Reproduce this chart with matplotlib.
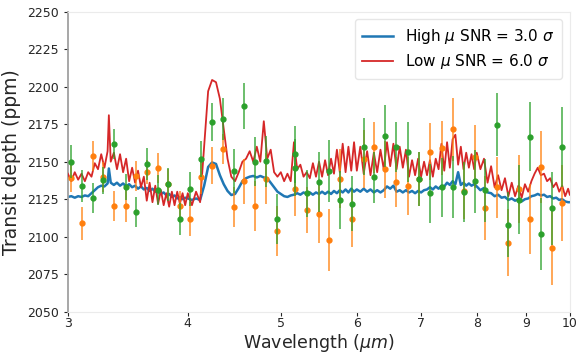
import matplotlib
matplotlib.use("Agg")
import matplotlib.pyplot as plt
from matplotlib.ticker import FixedLocator, NullLocator, FixedFormatter

# model spectra (wavelength in micron, transit depth in ppm)
wl_line = [3.000, 3.025, 3.050, 3.075, 3.100, 3.125, 3.150, 3.175, 3.200, 3.225,
           3.250, 3.275, 3.300, 3.310, 3.325, 3.350, 3.375, 3.400, 3.425, 3.450,
           3.475, 3.500, 3.525, 3.550, 3.575, 3.600, 3.625, 3.650, 3.675, 3.700,
           3.725, 3.750, 3.775, 3.800, 3.825, 3.850, 3.875, 3.900, 3.925, 3.950,
           3.975,
           4.00, 4.04, 4.08, 4.12, 4.16, 4.20, 4.24, 4.28, 4.32, 4.36,
           4.40, 4.44, 4.48, 4.52, 4.56, 4.60, 4.64, 4.68, 4.72, 4.76,
           4.80, 4.84, 4.88, 4.92, 4.96, 5.00, 5.04, 5.08, 5.12, 5.16,
           5.20, 5.24, 5.28, 5.32, 5.36, 5.40, 5.44, 5.48, 5.52, 5.56,
           5.60, 5.64, 5.68, 5.72, 5.76, 5.80, 5.84, 5.88, 5.92, 5.96,
           6.00, 6.05, 6.10, 6.15, 6.20, 6.25, 6.30, 6.35, 6.40, 6.45,
           6.50, 6.55, 6.60, 6.65, 6.70, 6.75, 6.80, 6.85, 6.90, 6.95,
           7.00, 7.05, 7.10, 7.15, 7.20, 7.25, 7.30, 7.35, 7.40, 7.45,
           7.50, 7.55, 7.60, 7.65, 7.70, 7.75, 7.80, 7.85, 7.90, 7.95,
           8.00, 8.07, 8.14, 8.21, 8.28, 8.35, 8.42, 8.49, 8.56, 8.63,
           8.70, 8.77, 8.84, 8.91, 8.98, 9.05, 9.12, 9.19, 9.26, 9.33,
           9.40, 9.47, 9.54, 9.61, 9.68, 9.75, 9.82, 9.89, 9.96, 10.00]

high_mu = [2126.5, 2127.0, 2126.0, 2127.0, 2126.5, 2127.5, 2127.0, 2129.0, 2131.0, 2133.0,
           2134.0, 2133.5, 2135.5, 2145.5, 2136.0, 2134.5, 2136.0, 2134.0, 2135.5, 2133.5,
           2135.0, 2133.0, 2134.0, 2132.0, 2133.5, 2131.5, 2132.5, 2130.5, 2132.0, 2130.0,
           2130.5, 2128.5, 2129.5, 2127.5, 2128.5, 2126.5, 2127.5, 2125.5, 2126.5, 2125.0,
           2126.0,
           2125.5, 2124.5, 2125.5, 2124.5, 2134.0, 2146.5, 2149.5, 2148.5, 2141.0, 2135.0,
           2130.5, 2127.8, 2128.5, 2132.5, 2137.0, 2139.0, 2140.0, 2140.5, 2139.5, 2140.5,
           2139.5, 2139.0, 2136.0, 2133.0, 2130.0, 2128.5, 2127.0, 2126.5, 2127.5, 2128.0,
           2129.0, 2128.0, 2129.5, 2128.5, 2129.5, 2128.0, 2129.5, 2128.5, 2130.0, 2128.5,
           2130.0, 2128.5, 2130.5, 2129.0, 2131.0, 2129.5, 2131.5, 2129.5, 2132.0, 2130.0,
           2131.5, 2130.0, 2132.0, 2130.0, 2131.5, 2129.5, 2131.0, 2129.5, 2131.0, 2133.5,
           2132.0, 2134.0, 2130.0, 2131.0, 2129.5, 2131.0, 2129.5, 2130.5, 2129.0, 2130.5,
           2129.5, 2131.0, 2131.5, 2133.0, 2131.5, 2133.5, 2132.0, 2134.0, 2133.5, 2136.0,
           2134.5, 2137.0, 2135.0, 2143.0, 2134.5, 2136.0, 2134.0, 2135.5, 2134.0, 2135.0,
           2133.5, 2131.0, 2132.5, 2129.5, 2129.0, 2127.0, 2128.0, 2126.0, 2126.5, 2124.5,
           2125.5, 2124.0, 2125.0, 2123.5, 2125.0, 2125.5, 2127.0, 2127.5, 2128.5, 2127.5,
           2128.0, 2126.5, 2127.0, 2125.5, 2126.0, 2124.5, 2125.0, 2123.5, 2123.0, 2123.0]

low_mu = [2142, 2137, 2143, 2138, 2142, 2137, 2143, 2140, 2149, 2145,
          2155, 2146, 2157, 2181, 2150, 2156, 2145, 2155, 2143, 2152,
          2137, 2146, 2136, 2144, 2133, 2140, 2124, 2136, 2123, 2134,
          2122, 2131, 2121, 2129, 2120, 2130, 2121, 2130, 2122, 2129,
          2121,
          2129, 2121, 2130, 2123, 2160, 2197, 2204.5, 2203, 2192, 2172,
          2152, 2140, 2137, 2143, 2150, 2152, 2157, 2150, 2160, 2150,
          2177, 2152, 2158, 2143, 2140, 2143, 2137, 2142, 2137, 2163,
          2145, 2148, 2140, 2143, 2139, 2149, 2140, 2150, 2140, 2151,
          2141, 2152, 2142, 2158, 2143, 2162, 2143, 2160, 2144, 2163,
          2144, 2160, 2142, 2157, 2141, 2156, 2143, 2158, 2145, 2163,
          2147, 2162, 2145, 2160, 2146, 2158, 2140, 2151, 2141, 2152,
          2140, 2150, 2141, 2151, 2140, 2152, 2145, 2162, 2144, 2163,
          2146, 2165, 2168, 2148, 2160, 2145, 2156, 2146, 2155, 2145,
          2156, 2145, 2152, 2136, 2147, 2133, 2141, 2131, 2139, 2127,
          2136, 2127, 2134, 2126, 2135, 2130, 2137, 2142, 2146, 2141,
          2142, 2137, 2139, 2133, 2136, 2130, 2134, 2127, 2132, 2128]

# simulated observations
wl_green = [3.025, 3.103, 3.185, 3.267, 3.354, 3.445, 3.531, 3.626, 3.723, 3.818,
            3.922, 4.025, 4.127, 4.239, 4.351, 4.467, 4.581, 4.703, 4.829, 4.958,
            5.174, 5.174, 5.321, 5.481, 5.614, 5.760, 5.924, 6.101, 6.254, 6.416,
            6.588, 6.776, 6.957, 7.153, 7.356, 7.548, 7.755, 7.957, 8.161, 8.400,
            8.618, 8.849, 9.086, 9.329, 9.579, 9.818]
green = [2150.0, 2133.8, 2125.6, 2137.5, 2161.8, 2133.1, 2116.3, 2148.5, 2131.1, 2135.1,
         2111.8, 2131.8, 2151.8, 2176.3, 2178.3, 2143.8, 2187.1, 2150.0, 2150.3, 2111.8,
         2154.9, 2146.0, 2128.9, 2136.7, 2143.8, 2124.3, 2122.0, 2160.0, 2139.6, 2167.3,
         2159.6, 2156.3, 2138.5, 2128.9, 2132.9, 2133.3, 2129.6, 2137.1, 2131.1, 2174.5,
         2108.0, 2124.5, 2166.7, 2101.8, 2118.9, 2160.0]
green_err = [11, 10.5, 10, 9, 10, 8.5, 10, 10.6, 10, 11,
             10.6, 11.5, 12, 12.6, 14, 14.7, 15.5, 16.5, 17, 16.7,
             19, 19, 15.6, 20, 20.6, 19.5, 18.4, 19, 17, 20.6,
             16.7, 20, 18, 19.5, 19.5, 20.6, 20, 21, 21, 21,
             21.7, 23, 23, 23.7, 24.5, 26.7]

wl_orange = [3.025, 3.103, 3.185, 3.267, 3.354, 3.445, 3.531, 3.626, 3.723, 3.818,
             3.922, 4.025, 4.127, 4.239, 4.351, 4.467, 4.581, 4.703, 4.829, 4.958,
             5.174, 5.321, 5.481, 5.614, 5.760, 5.924, 6.101, 6.254, 6.416, 6.588,
             6.776, 6.957, 7.153, 7.356, 7.548, 7.755, 7.957, 8.161, 8.400, 8.618,
             8.849, 9.086, 9.329, 9.579, 9.818]
orange = [2138.9, 2108.9, 2153.5, 2140.0, 2120.5, 2120.5, 2140.5, 2142.9, 2146.0, 2134.9,
          2120.5, 2111.6, 2139.5, 2147.3, 2158.5, 2119.8, 2136.9, 2120.5, 2138.5, 2104.0,
          2131.6, 2117.8, 2115.1, 2098.0, 2138.7, 2112.0, 2151.8, 2159.6, 2144.9, 2136.3,
          2133.8, 2138.5, 2156.7, 2158.9, 2171.8, 2130.7, 2153.3, 2119.3, 2132.9, 2096.0,
          2131.8, 2111.8, 2146.5, 2092.7, 2122.3]
orange_err = [9, 11, 10, 10, 10, 10.4, 10, 8, 10, 10,
              10, 11.4, 10.8, 12.3, 9.8, 13.4, 15, 16.4, 17, 16.7,
              17.8, 15.6, 19.5, 20.6, 19.5, 19, 19.5, 17, 19, 16.7,
              19.5, 18, 19, 18, 21, 19, 21, 21.4, 20.4, 22.5,
              22.8, 23.4, 24, 24.8, 25.4]

xticks = [3, 4, 5, 6, 7, 8, 9, 10]

fig = plt.figure(figsize=(5.85, 3.55), dpi=100)
ax = fig.add_axes([0.116, 0.122, 0.858, 0.845])

ax.plot(wl_line, high_mu, color="#1f77b4", lw=1.8, label=r"High $\mu$ SNR = 3.0 $\sigma$", zorder=2)
ax.plot(wl_line, low_mu, color="#d62728", lw=1.3, label=r"Low $\mu$ SNR = 6.0 $\sigma$", zorder=3)

ax.errorbar(wl_orange, orange, yerr=orange_err, fmt="o", color="#ff7f0e", ms=3.5,
            elinewidth=1.3, ecolor=(1.0, 0.5, 0.055, 0.75), zorder=4)
ax.errorbar(wl_green, green, yerr=green_err, fmt="o", color="#2ca02c", ms=3.5,
            elinewidth=1.3, ecolor=(0.17, 0.63, 0.17, 0.75), zorder=5)

ax.set_xscale("log")
ax.set_xlim(3, 10)
ax.set_ylim(2050, 2250)
ax.xaxis.set_major_locator(FixedLocator(xticks))
ax.xaxis.set_major_formatter(FixedFormatter([str(t) for t in xticks]))
ax.xaxis.set_minor_locator(NullLocator())
ax.set_yticks([2050, 2075, 2100, 2125, 2150, 2175, 2200, 2225, 2250])

ax.tick_params(axis="both", labelsize=9, colors="#262626", length=3, width=0.8)
ax.tick_params(axis="x", pad=1)
for s in ["top", "right", "bottom"]:
    ax.spines[s].set_color("#ebebeb")
ax.spines["left"].set_color("#a0a0a0")
ax.spines["left"].set_linewidth(1.3)

ax.set_xlabel(r"Wavelength ($\mu m$)", fontsize=12.5, color="#262626", labelpad=1)
ax.set_ylabel("Transit depth (ppm)", fontsize=13.5, color="#262626", labelpad=4)

leg = ax.legend(loc="upper right", fontsize=11, frameon=True, borderpad=0.5,
                handlelength=2.0, labelspacing=0.4)
leg.get_frame().set_edgecolor("#e0e0e0")

plt.savefig("out.png", dpi=100)
